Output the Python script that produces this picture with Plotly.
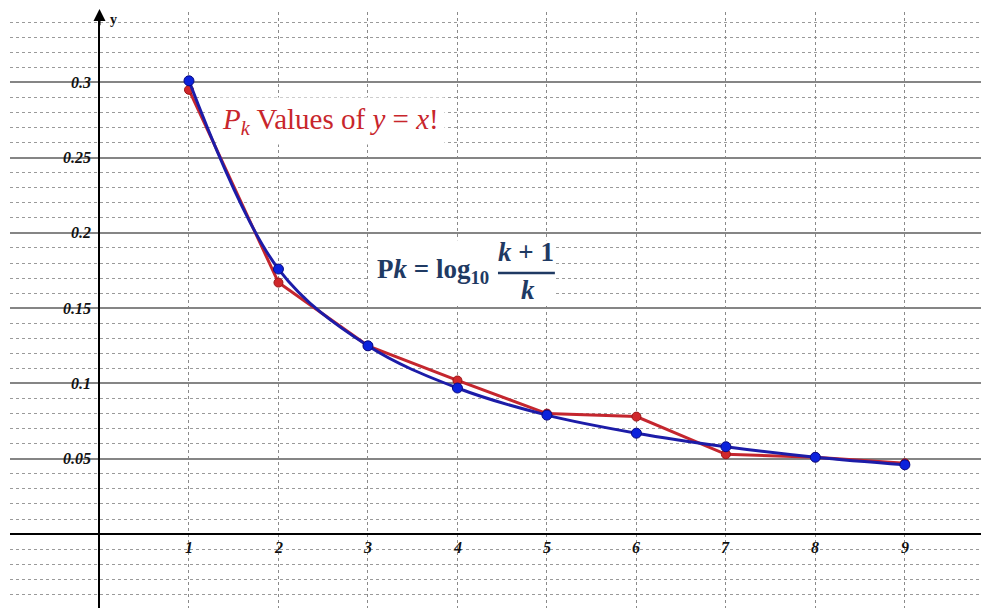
import plotly.graph_objects as go

# ---- data ----
k_values = [1, 2, 3, 4, 5, 6, 7, 8, 9]
benford_pk = [0.301, 0.176, 0.125, 0.097, 0.079, 0.067, 0.058, 0.051, 0.046]
factorial_pk = [0.295, 0.167, 0.125, 0.102, 0.080, 0.078, 0.053, 0.051, 0.047]
x_tick_vals = [1, 2, 3, 4, 5, 6, 7, 8, 9]
x_tick_labels = ["1", "2", "3", "4", "5", "6", "7", "8", "9"]
y_tick_vals = [0.05, 0.1, 0.15, 0.2, 0.25, 0.3]
y_tick_labels = ["0.05", "0.1", "0.15", "0.2", "0.25", "0.3"]

SERIF = "Liberation Serif, Times New Roman, serif"
NAVY = "#1f3a63"

fig = go.Figure()

fig.add_trace(go.Scatter(
    x=k_values, y=factorial_pk, mode="lines+markers",
    line=dict(color="#c4262e", width=3),
    marker=dict(color="#d0272b", size=9, line=dict(color="#9a1515", width=1)),
    showlegend=False, hoverinfo="x+y"))

fig.add_trace(go.Scatter(
    x=k_values, y=benford_pk, mode="lines+markers",
    line=dict(color="#1c1ca8", width=3, shape="spline", smoothing=1),
    marker=dict(color="#0b22dc", size=10, line=dict(color="#0a0a80", width=1)),
    showlegend=False, hoverinfo="x+y"))

annotations = []
# y tick labels (drawn inside the plot, left of the y axis)
for v, lab in zip(y_tick_vals, y_tick_labels):
    annotations.append(dict(x=-0.07, y=v, xref="x", yref="y", text=f"<b><i>{lab}</i></b>",
                            showarrow=False, xanchor="right", yanchor="middle",
                            font=dict(family=SERIF, size=16, color="#111")))
# x tick labels
for v, lab in zip(x_tick_vals, x_tick_labels):
    annotations.append(dict(x=v, y=-0.0088, xref="x", yref="y", text=f"<b><i>{lab}</i></b>",
                            showarrow=False, xanchor="center", yanchor="middle",
                            font=dict(family=SERIF, size=16, color="#111")))

# axis arrow + labels
annotations.append(dict(x=0, y=1.012, xref="x", yref="paper", ax=0, ay=22, text="",
                        showarrow=True, arrowhead=2, arrowsize=1.2, arrowwidth=2, arrowcolor="black"))
annotations.append(dict(x=0.09, y=0.3415, xref="x", yref="y", text="<b>y</b>", showarrow=False,
                        xanchor="left", yanchor="middle", font=dict(family=SERIF, size=14, color="#111")))
annotations.append(dict(x=9.86, y=0.0088, xref="x", yref="y", text="<b>x</b>", showarrow=False,
                        xanchor="left", yanchor="middle", font=dict(family=SERIF, size=14, color="#111")))

# red title text
annotations.append(dict(x=2.587, y=0.2742, xref="x", yref="y",
                        text="<i>P</i><sub><i>k</i></sub> Values of <i>y</i> = <i>x</i>!",
                        showarrow=False, xanchor="center", yanchor="middle",
                        bgcolor="white", borderpad=5,
                        font=dict(family=SERIF, size=29, color="#c8262c")))

# formula
annotations.append(dict(x=3.078, y=0.1746, xref="x", yref="y",
                        text="<b>P<i>k</i> = log<sub>10</sub></b>", showarrow=False,
                        xanchor="left", yanchor="middle",
                        font=dict(family=SERIF, size=27, color=NAVY)))
annotations.append(dict(x=4.765, y=0.1873, xref="x", yref="y",
                        text="<b><i>k</i> + 1</b>", showarrow=False,
                        xanchor="center", yanchor="middle",
                        font=dict(family=SERIF, size=27, color=NAVY)))
annotations.append(dict(x=4.788, y=0.1620, xref="x", yref="y",
                        text="<b><i>k</i></b>", showarrow=False,
                        xanchor="center", yanchor="middle",
                        font=dict(family=SERIF, size=27, color=NAVY)))

shapes = [
    dict(type="rect", xref="x", yref="y", x0=3.02, x1=5.09, y0=0.1527, y1=0.1952,
         fillcolor="white", line=dict(width=0), layer="between"),
    dict(type="line", xref="x", yref="y", x0=4.453, x1=5.089, y0=0.1733, y1=0.1733,
         line=dict(color=NAVY, width=2.5), layer="above"),
]

fig.update_layout(
    width=981, height=600,
    margin=dict(l=2, r=0, t=4, b=0),
    paper_bgcolor="white", plot_bgcolor="white",
    annotations=annotations, shapes=shapes,
    xaxis=dict(range=[-1, 9.94], tickvals=x_tick_vals, showticklabels=False,
               showgrid=True, gridcolor="#8a8a8a", griddash="dot", gridwidth=1,
               zeroline=True, zerolinecolor="black", zerolinewidth=2,
               showline=False, ticks="", fixedrange=True),
    yaxis=dict(range=[-0.0491, 0.3467], tick0=0, dtick=0.05, showticklabels=False,
               showgrid=True, gridcolor="#858585", gridwidth=2,
               minor=dict(dtick=0.01, tick0=0, showgrid=True, gridcolor="#9a9a9a",
                          griddash="dot", gridwidth=1),
               zeroline=True, zerolinecolor="black", zerolinewidth=2,
               showline=False, ticks="", fixedrange=True),
)

fig.write_html("out.html")
